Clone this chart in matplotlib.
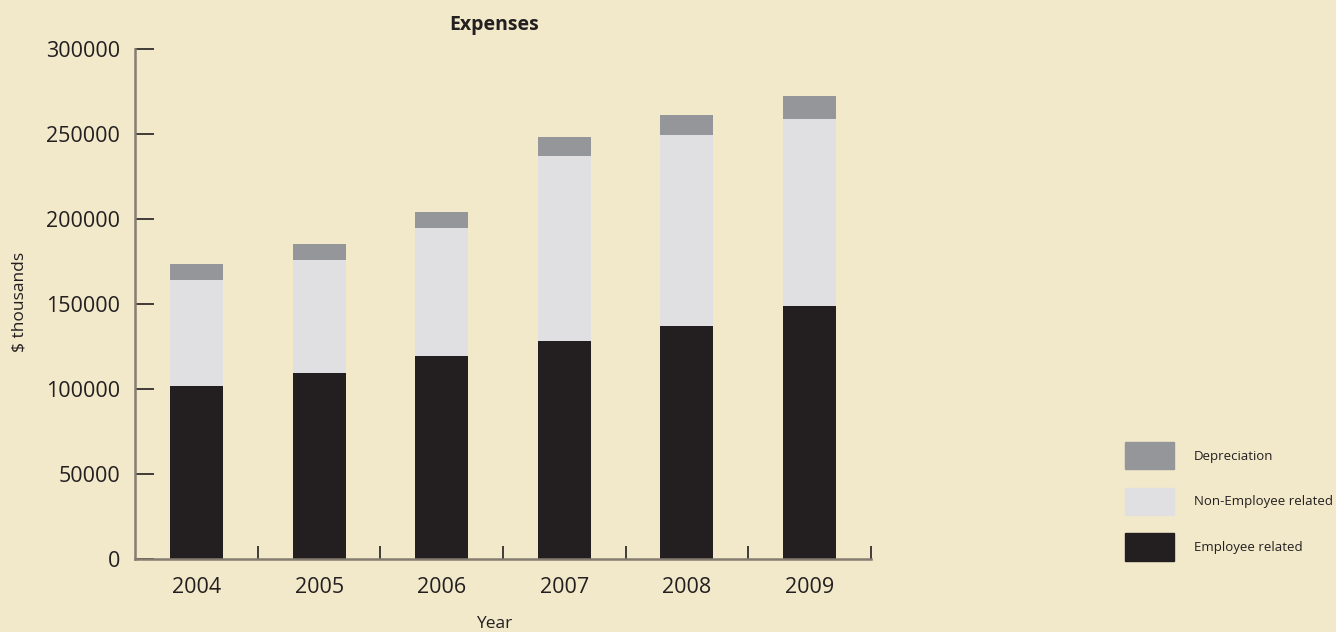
import matplotlib
matplotlib.use("Agg")
import matplotlib.pyplot as plt
from matplotlib.patches import Patch
import numpy as np

years = ["2004", "2005", "2006", "2007", "2008", "2009"]
employee = [102000, 109600, 119600, 128400, 137200, 149000]
non_employee = [62300, 66500, 75400, 108800, 112400, 110000]
depreciation = [9400, 9400, 9300, 11200, 11800, 13500]

BG = "#f2e9ca"
C_EMP, C_NON, C_DEP = "#231f20", "#e0e0e2", "#959699"
INK = "#231f20"
SPINE = "#857d70"

plt.rcParams["font.family"] = ["Open Sans", "DejaVu Sans"]

fig = plt.figure(figsize=(13.36, 6.32), dpi=100, facecolor=BG)
ax = fig.add_axes([135.3 / 1336, 1 - 559.3 / 632, (870.7 - 135.3) / 1336, (559.3 - 49.3) / 632])
ax.set_facecolor(BG)

x = np.arange(len(years))
w = 0.433
emp = np.array(employee); non = np.array(non_employee); dep = np.array(depreciation)
ax.bar(x, emp, w, color=C_EMP, zorder=2)
ax.bar(x, non, w, bottom=emp, color=C_NON, zorder=2)
ax.bar(x, dep, w, bottom=emp + non, color=C_DEP, zorder=2)

ax.set_xlim(-0.5, len(years) - 0.5)
ax.set_ylim(0, 300000)
ax.set_yticks(np.arange(0, 300001, 50000))
ax.set_xticks(x)
ax.set_xticklabels(years)
ax.set_xticks(x + 0.5, minor=True)

for s in ("top", "right"):
    ax.spines[s].set_visible(False)
for s in ("left", "bottom"):
    ax.spines[s].set_color(SPINE)
    ax.spines[s].set_linewidth(1.8)

# tick lengths in points (~19 px and ~13 px at 100 dpi)
ax.tick_params(axis="y", direction="in", length=13.7, width=1.2, color=INK,
               labelsize=15.5, labelcolor=INK, pad=11)
ax.tick_params(axis="x", which="major", length=0, labelsize=15.5, labelcolor=INK, pad=13)
ax.tick_params(axis="x", which="minor", direction="in", length=9.4, width=1.2, color=INK)

fig.text(20 / 1336, 1 - 302 / 632, "$ thousands", rotation=90, ha="center", va="center",
         fontsize=12.5, color=INK)
fig.text(494 / 1336, 1 - 25 / 632, "Expenses", ha="center", va="center",
         fontsize=14, fontweight="bold", color=INK)
fig.text(494 / 1336, 1 - 624 / 632, "Year", ha="center", va="center",
         fontsize=12.5, color=INK)

handles = [Patch(color=C_DEP), Patch(color=C_NON), Patch(color=C_EMP)]
labels = ["Depreciation", "Non-Employee related", "Employee related"]
fig.legend(handles, labels, loc="upper left", bbox_to_anchor=(1125 / 1336, 1 - 442 / 632),
           frameon=False, fontsize=9.5, handlelength=3.7, handleheight=2.8,
           labelspacing=1.4, handletextpad=1.5, borderpad=0, borderaxespad=0,
           labelcolor=INK)

fig.savefig("out.png", dpi=100, facecolor=BG)
